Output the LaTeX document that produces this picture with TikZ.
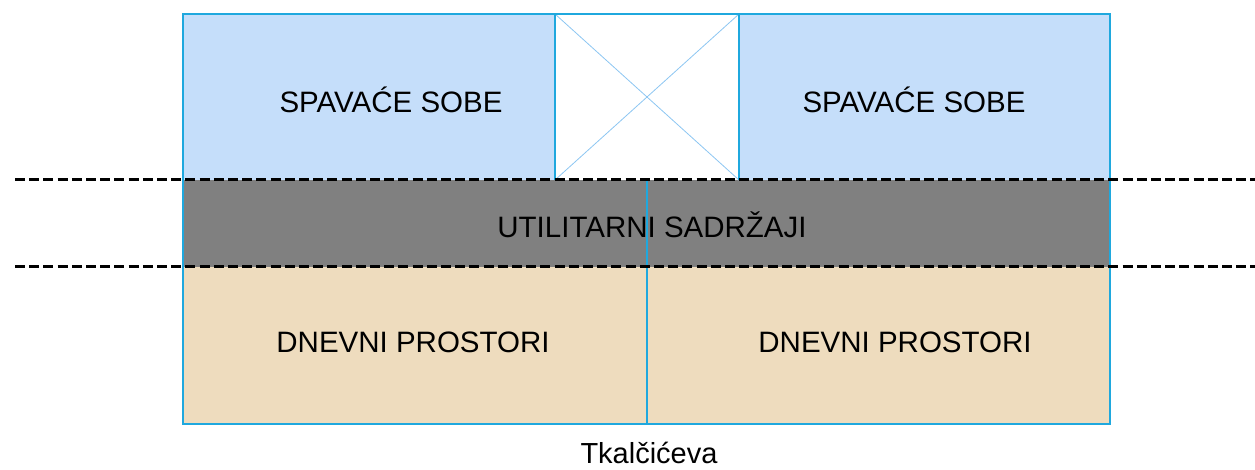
\documentclass[tikz,border=0pt]{standalone}
\usepackage{fontspec}
\setmainfont{Liberation Sans}
\definecolor{roomblue}{HTML}{C5DEFA}
\definecolor{edgeblue}{HTML}{1FA8DE}
\definecolor{crossblue}{HTML}{8CC6F2}
\definecolor{utilgray}{HTML}{808080}
\definecolor{daybeige}{HTML}{EEDCBE}
\begin{document}
\begin{tikzpicture}[x=1pt,y=-1pt,
  zone/.style={draw=edgeblue,line width=1.3pt},
  label/.style={font=\fontsize{29.5}{35}\selectfont,text=black,inner sep=0pt},
  floorline/.style={draw=black,line width=3pt,dash pattern=on 10pt off 4.2pt}]
\useasboundingbox (0,0) rectangle (1255,470);
% zones
\fill[roomblue] (183,14) rectangle (555,180);
\fill[roomblue] (739,14) rectangle (1110,180);
\fill[utilgray] (183,180) rectangle (1110,267);
\fill[daybeige] (183,267) rectangle (1110,424);
% stair void with cross
\draw[crossblue,line width=0.8pt] (555,14) -- (739,180) (739,14) -- (555,180);
% outlines
\draw[zone] (183,14) rectangle (1110,424);
\draw[zone] (555,14) -- (555,180) (739,14) -- (739,180);
\draw[zone] (647,180) -- (647,424);
% floor boundaries
\coordinate (l1) at (15,180); \coordinate (r1) at (1255,180);
\coordinate (l2) at (15,267); \coordinate (r2) at (1255,267);
\draw[floorline] (l1) -- (r1);
\draw[floorline] (l2) -- (r2);
% labels
\node[label] (sleepL) at (391,100) {SPAVAĆE SOBE};
\node[label] (sleepR) at (914,100) {SPAVAĆE SOBE};
\node[label] (util) at (652,225) {UTILITARNI SADRŽAJI};
\node[label] (dayL) at (413,342) {DNEVNI PROSTORI};
\node[label] (dayR) at (895,342) {DNEVNI PROSTORI};
\node[label,font=\fontsize{29}{34}\selectfont] (street) at (649,453) {Tkalčićeva};
\end{tikzpicture}
\end{document}
